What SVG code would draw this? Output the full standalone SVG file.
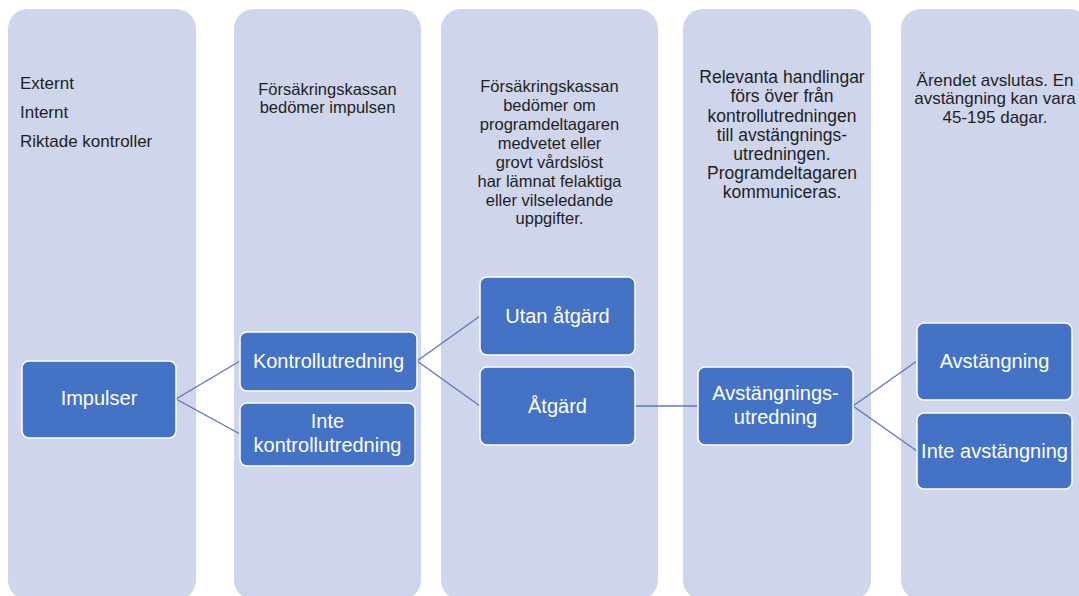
<svg xmlns="http://www.w3.org/2000/svg" width="1079" height="596" viewBox="0 0 1079 596">
<style>
.col{fill:#CFD5EA;}
.node{fill:#4472C4;stroke:#FFFFFF;stroke-width:1.5;}
.ct{font-family:"Liberation Sans",Arial,sans-serif;font-size:16.5px;fill:#1F1F1F;text-anchor:middle;}
.c4{font-size:17.5px;}
.c5{font-size:17px;}
.cl{font-family:"Liberation Sans",Arial,sans-serif;font-size:17px;fill:#1F1F1F;}
.nt{font-family:"Liberation Sans",Arial,sans-serif;font-size:20px;fill:#FFFFFF;text-anchor:middle;}
.conn{stroke:#5A78B8;stroke-width:1.3;fill:none;}
</style>
<rect width="1079" height="596" fill="#FFFFFF"/>
<g id="columns">
<g id="col1"><rect class="col" x="8" y="9" width="188" height="591" rx="20"/>
<text class="cl" x="20" y="89">Externt</text>
<text class="cl" x="20" y="118">Internt</text>
<text class="cl" x="20" y="147">Riktade kontroller</text></g>
<g id="col2"><rect class="col" x="234" y="9" width="187" height="591" rx="20"/>
<text class="ct" x="327.5" y="94.5">Försäkringskassan</text>
<text class="ct" x="327.5" y="112.5">bedömer impulsen</text></g>
<g id="col3"><rect class="col" x="441" y="9" width="217" height="591" rx="20"/>
<text class="ct" x="549.5" y="92">Försäkringskassan</text>
<text class="ct" x="549.5" y="111">bedömer om</text>
<text class="ct" x="549.5" y="130">programdeltagaren</text>
<text class="ct" x="549.5" y="148.5">medvetet eller</text>
<text class="ct" x="549.5" y="167.5">grovt vårdslöst</text>
<text class="ct" x="549.5" y="186.5">har lämnat felaktiga</text>
<text class="ct" x="549.5" y="205.5">eller vilseledande</text>
<text class="ct" x="549.5" y="224">uppgifter.</text></g>
<g id="col4"><rect class="col" x="683" y="9" width="188" height="591" rx="20"/>
<text class="ct c4" x="782" y="83">Relevanta handlingar</text>
<text class="ct c4" x="782" y="102">förs över från</text>
<text class="ct c4" x="782" y="121.5">kontrollutredningen</text>
<text class="ct c4" x="782" y="141">till avstängnings-</text>
<text class="ct c4" x="782" y="160">utredningen.</text>
<text class="ct c4" x="782" y="179">Programdeltagaren</text>
<text class="ct c4" x="782" y="198">kommuniceras.</text></g>
<g id="col5"><rect class="col" x="901" y="9" width="188" height="591" rx="20"/>
<text class="ct c5" x="995" y="85.5">Ärendet avslutas. En</text>
<text class="ct c5" x="995" y="104">avstängning kan vara</text>
<text class="ct c5" x="995" y="122.5">45-195 dagar.</text></g>
</g>
<g id="connectors">
<polyline class="conn" points="240,361 176,399 240,434"/>
<polyline class="conn" points="480,316 417,361 480,406"/>
<line class="conn" x1="635" y1="406" x2="698" y2="406"/>
<polyline class="conn" points="917,361 853,406 917,451"/>
</g>
<g id="n-impulser"><rect class="node" x="22" y="361" width="154" height="77" rx="7"/>
<text class="nt" x="99" y="405">Impulser</text></g>
<g id="n-kontroll"><rect class="node" x="240" y="332" width="177" height="59" rx="7"/>
<text class="nt" x="328.5" y="368">Kontrollutredning</text></g>
<g id="n-intekontroll"><rect class="node" x="240" y="403" width="175" height="63" rx="7"/>
<text class="nt" x="327.5" y="428">Inte</text>
<text class="nt" x="327.5" y="452">kontrollutredning</text></g>
<g id="n-utan"><rect class="node" x="480" y="277" width="155" height="78" rx="7"/>
<text class="nt" x="557.5" y="323">Utan åtgärd</text></g>
<g id="n-atgard"><rect class="node" x="480" y="367" width="155" height="78" rx="7"/>
<text class="nt" x="557.5" y="413">Åtgärd</text></g>
<g id="n-avstutr"><rect class="node" x="698" y="367" width="155" height="78" rx="7"/>
<text class="nt" x="775.5" y="400">Avstängnings-</text>
<text class="nt" x="775.5" y="424">utredning</text></g>
<g id="n-avst"><rect class="node" x="917" y="323" width="155" height="77" rx="7"/>
<text class="nt" x="994.5" y="368">Avstängning</text></g>
<g id="n-inteavst"><rect class="node" x="917" y="413" width="155" height="76" rx="7"/>
<text class="nt" x="994.5" y="458">Inte avstängning</text></g>
</svg>
